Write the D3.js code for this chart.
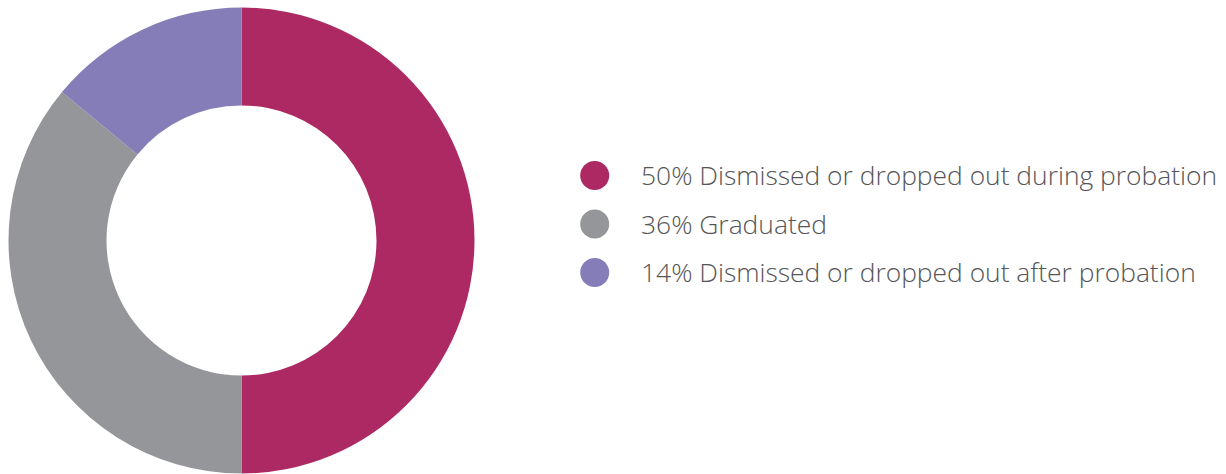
<!DOCTYPE html>
<html>
<head>
<meta charset="utf-8">
<script src="https://cdn.jsdelivr.net/npm/d3@7"></script>
<style>
  html, body { margin: 0; padding: 0; background: #fff; }
  svg { display: block; }
</style>
</head>
<body>
<svg id="chart" width="1226" height="474"></svg>
<script>
// Outcomes of students placed on probation
const categories = [
  "Dismissed or dropped out during probation",
  "Graduated",
  "Dismissed or dropped out after probation"
];
const shares = [50, 36, 14];
const colors = ["#AD2964", "#959699", "#847DB8"];

const svg = d3.select("#chart");
const cx = 241.5, cy = 240.5;
const outerR = 233, innerR = 135;

const pie = d3.pie().sort(null).value(d => d.value);
const arc = d3.arc().innerRadius(innerR).outerRadius(outerR);

const data = categories.map((c, i) => ({ name: c, value: shares[i], color: colors[i] }));

svg.append("g")
  .attr("transform", `translate(${cx},${cy})`)
  .selectAll("path")
  .data(pie(data))
  .join("path")
  .attr("d", arc)
  .attr("fill", d => d.data.color);

// Legend
const legendY = d3.scalePoint()
  .domain(categories)
  .range([175.5, 272.5]);

const legend = svg.append("g");
const rows = legend.selectAll("g")
  .data(data)
  .join("g")
  .attr("transform", d => `translate(0,${legendY(d.name)})`);

rows.append("circle")
  .attr("cx", 594.7)
  .attr("cy", 0)
  .attr("r", 14.5)
  .attr("fill", d => d.color);

rows.append("text")
  .attr("x", 641)
  .attr("y", 9.8)
  .attr("font-family", "'Open Sans', sans-serif")
  .attr("font-weight", 300)
  .attr("font-size", 26.4)
  .attr("fill", "#555557")
  .text(d => `${d.value}% ${d.name}`);
</script>
</body>
</html>
